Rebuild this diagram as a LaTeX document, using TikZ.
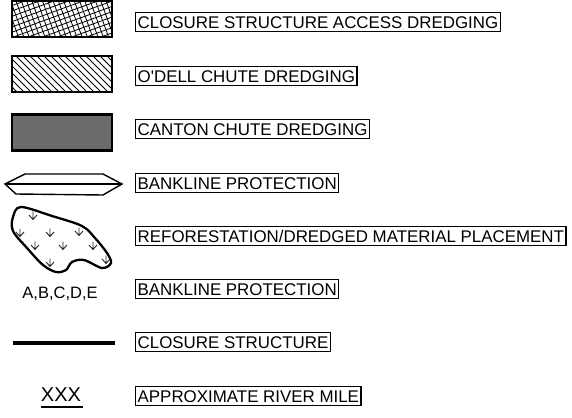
\documentclass[tikz,border=0pt]{standalone}
\usepackage{fontspec}
\setmainfont{Liberation Sans}
\usetikzlibrary{positioning}

\begin{document}
\begin{tikzpicture}[x=1pt, y=-1pt,
  lbl/.style={draw=black, line width=1.4pt, anchor=west, inner xsep=2pt, inner ysep=3.4pt,
              text height=12.2pt, text depth=0pt, font=\fontsize{16.9}{20}\selectfont},
  symbox/.style={draw=black, line width=2.5pt, minimum width=100pt, minimum height=36pt, inner sep=0pt},
  hatch/.style={line width=0.8pt},
  twig/.style={draw=black!85, line width=0.9pt}
]
\useasboundingbox (0,0) rectangle (572,417);

% ---- symbols: dredging areas ----
\node[symbox, path picture={
    \foreach \i in {-130,-115.4,...,120}
      \draw[hatch] ([xshift=\i pt]path picture bounding box.south west) -- ++(20:160pt);
    \foreach \i in {-20,-14.7,...,130}
      \draw[hatch] ([xshift=\i pt]path picture bounding box.south west) -- ++(110:60pt);
  }] (sym-access) at (62,19) {};
\node[symbox, path picture={
    \foreach \i in {-45,-38,...,110}
      \draw[hatch] ([xshift=\i pt]path picture bounding box.north west) -- ++(-45:70pt);
  }] (sym-odell) at (62,74) {};
\node[symbox, fill=black!58] (sym-canton) at (62,132.5) {};

% ---- bankline protection ----
\draw[line width=1.4pt, line join=miter] (5,184) -- (25,174) -- (103,174) -- (122,184)
  -- (103,195) -- (16,194) -- cycle;
\draw[line width=1.4pt] (5,184) -- (122,184);

% ---- reforestation area ----
\draw[line width=2.3pt] plot[smooth cycle, tension=0.55] coordinates {
  (21,207) (52,216) (82,226) (95,238) (107,253) (111,263) (102,268) (84,260)
  (72,262) (66,270) (56,272) (43,265) (27,248) (13,231) (13,217)};
\foreach \px/\py in {33/215, 20/232, 50/232, 79/231, 35/245, 63/245, 93/245, 50/262, 106/259}
  \draw[twig] (\px-4,\py) -- (\px,\py+4.5) -- (\px+4,\py) (\px,\py-3.5) -- (\px,\py+4.5);

\node[font=\fontsize{16.5}{19}\selectfont] (sym-letters) at (60,294) {A,B,C,D,E};

% ---- closure structure ----
\draw[line width=4pt] (13,343) -- (115,343);

% ---- river mile ----
\node[font=\fontsize{20}{24}\selectfont, inner sep=0pt] (sym-mile) at (61,395) {XXX};
\draw[line width=1.4pt] (sym-mile.south west) ++(0,5) -- ++(42,0);

% ---- labels ----
\node[lbl] (lb-access)  at (135,22)  {CLOSURE STRUCTURE ACCESS DREDGING};
\node[lbl] (lb-odell)   at (135,76)  {O\textquotesingle DELL CHUTE DREDGING};
\node[lbl] (lb-canton)  at (135,129) {CANTON CHUTE DREDGING};
\node[lbl] (lb-bank)    at (135,183) {BANKLINE PROTECTION};
\node[lbl] (lb-refor)   at (135,236) {REFORESTATION/DREDGED MATERIAL PLACEMENT};
\node[lbl] (lb-bank2)   at (135,289) {BANKLINE PROTECTION};
\node[lbl] (lb-closure) at (135,342) {CLOSURE STRUCTURE};
\node[lbl] (lb-mile)    at (135,396) {APPROXIMATE RIVER MILE};

\end{tikzpicture}
\end{document}
